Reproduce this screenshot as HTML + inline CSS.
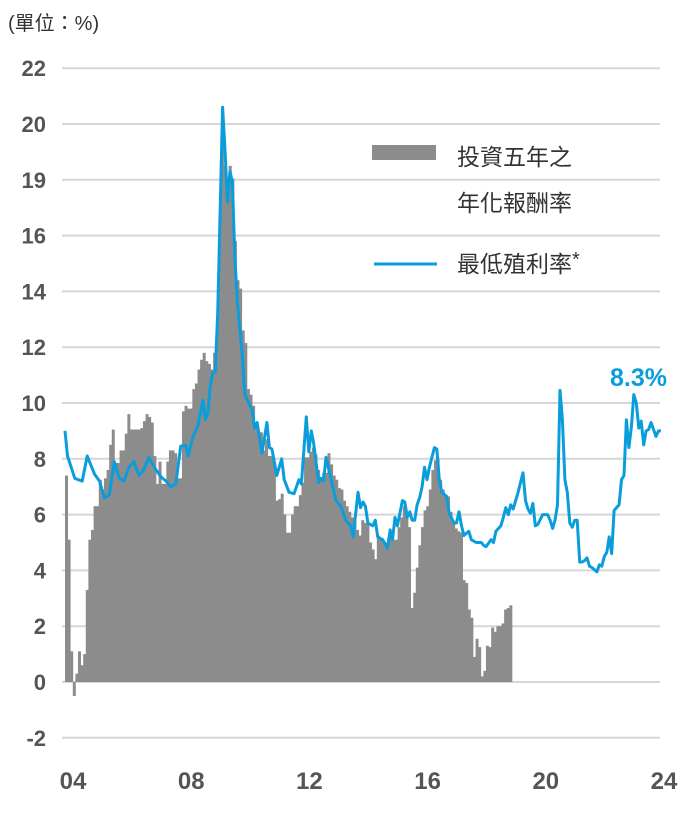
<!DOCTYPE html>
<html><head><meta charset="utf-8">
<style>
html,body{margin:0;padding:0;background:#fff;}
svg{display:block;font-family:"Liberation Sans","Noto Sans CJK TC",sans-serif;}
</style></head>
<body>
<svg id="chart" width="680" height="819" viewBox="0 0 680 819" xmlns="http://www.w3.org/2000/svg">
  <text x="8" y="30" font-size="20" fill="#333">(單位：%)</text>
  <g id="grid"></g>
  <g id="yticks"></g>
  <g id="xticks"></g>
  <g id="bars"></g>
  <path id="line" fill="none" stroke="#0a9ddb" stroke-width="3" stroke-linejoin="round"/>
  <g>
    <rect x="372" y="145" width="64" height="15" fill="#8c8c8c"/>
    <text x="457" y="165" font-size="23" fill="#333">投資五年之</text>
    <text x="457" y="211" font-size="23" fill="#333">年化報酬率</text>
    <line x1="374" y1="264" x2="437" y2="264" stroke="#0a9ddb" stroke-width="3"/>
    <text x="457" y="272" font-size="23" fill="#333">最低殖利率<tspan font-size="20" dy="-6">*</tspan></text>
  </g>
  <text x="667" y="386" font-size="25" font-weight="bold" fill="#0a9ddb" text-anchor="end">8.3%</text>
</svg>
<script>
const yTickValues = [22,20,18,16,14,12,10,8,6,4,2,0,-2];
const yTickLabels = ["22","20","19","16","14","12","10","8","6","4","2","0","-2"];
const xTickMonths = [0,48,96,144,192,240];
const xTickLabels = ["04","08","12","16","20","24"];
const barValues = [7.4,5.1,1.1,-0.5,0.3,1.1,0.6,1.0,3.3,5.1,5.45,6.3,6.3,7.25,6.9,7.3,7.6,8.5,9.05,7.85,7.85,8.3,8.3,8.9,9.6,9.05,9.05,9.05,9.05,9.1,9.35,9.6,9.5,9.3,8.1,7.1,7.9,7.1,7.1,7.9,8.3,8.3,8.2,7.3,7.3,9.7,9.9,9.8,9.8,10.5,10.7,11.2,11.55,11.8,11.5,11.4,11.2,11.8,12.65,16.1,19.5,18.5,17.55,18.5,18.05,15.8,14.4,14.1,12.6,12.15,10.5,10.3,9.9,9.3,8.95,8.95,8.3,8.7,8.1,8.1,7.9,6.5,6.55,
6.75,6.0,5.35,5.35,6.0,6.3,6.3,6.7,7.15,8.05,8.05,8.25,8.4,8.15,7.6,7.35,7.5,7.5,8.2,7.8,7.4,7.25,6.95,6.9,6.5,6.3,6.1,5.9,5.75,5.45,5.25,5.8,5.7,5.7,5.0,4.75,4.4,5.25,5.1,5.0,5.0,5.15,5.15,5.1,5.1,5.55,5.9,6.3,6.05,5.55,2.65,3.2,4.1,4.9,5.55,6.15,6.3,6.9,7.6,7.95,8.0,7.25,6.9,6.7,6.65,6.1,5.7,5.5,5.4,5.35,3.65,3.55,2.6,2.3,0.9,1.55,1.25,0.2,0.4,1.3,1.25,1.95,1.8,2.0,2.0,2.1,2.6,2.65,2.75];
const barStartMonth = 0;
const barEndMonth = 181.5;
const lineMonths = [0,1,4,7,9,12,14,16,18,20,22,24,26,28,30,32,34,37,39,41,43,45,47,49,50,52,54,56,57,58,59,60,61,62,64,65,66,67,68,69,70,72,73,76,77,78,80,82,83,84,86,88,89,91,93,95,96,98,99,100,101,103,104,105,106,108,110,112,114,116,117,119,120,121,122,123,125,126,127,129,131,132,133,134,135,137,138,139,140,141,142,143,144,145,146,147,148,150,151,152,153,155,156,158,159,160,161,162,164,165,167,169,170,171,173,174,175,177,178,179,180,181,182,184,186,187,188,189,190,191,192,194,196,197,198,199,200,201,202,203,204,205,206,207,208,209,210,211,212,213,214,216,217,218,219,220,221,222,223,225,226,227,228,229,230,231,232,233,234,235,236,237,238,240,241,242];
const lineValues = [9.0,8.1,7.3,7.2,8.1,7.45,7.2,6.6,6.7,7.9,7.3,7.2,7.7,7.9,7.4,7.6,8.05,7.6,7.35,7.2,7.0,7.1,8.45,8.5,8.1,8.8,9.2,10.1,9.4,9.6,10.6,11.1,11.1,13.2,20.6,19.0,17.2,18.3,17.9,15.2,13.6,11.7,10.3,9.75,9.1,9.3,8.2,9.3,8.4,8.35,7.4,8.0,7.25,6.8,6.75,7.25,7.1,9.5,8.25,9.0,8.55,7.15,7.3,7.2,8.05,7.3,6.5,6.3,5.8,5.6,5.2,6.8,6.25,6.45,6.3,5.7,5.6,5.8,5.2,5.1,4.8,5.45,5.1,5.9,5.6,6.5,6.45,5.9,6.1,5.8,5.8,6.35,6.6,7.0,7.7,7.25,7.7,8.4,8.35,7.25,6.8,6.65,6.05,5.7,5.7,6.1,5.6,5.25,5.4,5.1,5.0,5.0,4.9,4.85,5.1,5.0,5.4,5.6,5.9,6.25,6.0,6.35,6.2,6.8,7.5,6.5,6.2,6.05,6.4,5.6,5.65,6.0,6.0,5.8,5.5,5.8,6.35,10.45,9.4,7.25,6.8,5.7,5.55,5.8,5.8,4.3,4.3,4.35,4.45,4.15,4.1,3.95,4.2,4.15,4.5,4.65,5.2,4.6,6.15,6.35,7.25,7.4,9.4,8.4,9.15,10.3,10.0,9.1,9.35,8.5,9.0,9.05,9.3,8.8,9.0,9.0];

const NS = "http://www.w3.org/2000/svg";
function xScale(m){ return 65 + m * 2.4625; }
function yScale(v){ return 682 - v * 27.9; }

const grid = document.getElementById('grid');
const yt = document.getElementById('yticks');
yTickValues.forEach((v,i)=>{
  const ln = document.createElementNS(NS,'line');
  
  
  ln.setAttribute('x1', 62); ln.setAttribute('x2', 660);
  ln.setAttribute('y1', yScale(v)); ln.setAttribute('y2', yScale(v));
  ln.setAttribute('stroke', '#d6d6d6'); ln.setAttribute('stroke-width', 2);
  grid.appendChild(ln);
  const t = document.createElementNS(NS,'text');
  
  
  t.setAttribute('x', 46); t.setAttribute('y', yScale(v) + 8);
  t.setAttribute('text-anchor', 'end'); t.setAttribute('font-size', 22);
  t.setAttribute('font-weight', 'bold'); t.setAttribute('fill', '#555');
  t.textContent = yTickLabels[i];
  yt.appendChild(t);
});

const xt = document.getElementById('xticks');
xTickMonths.forEach((m,i)=>{
  const t = document.createElementNS(NS,'text');
  
  
  t.setAttribute('x', xScale(m) + 8); t.setAttribute('y', 789);
  t.setAttribute('text-anchor', 'middle'); t.setAttribute('font-size', 24);
  t.setAttribute('font-weight', 'bold'); t.setAttribute('fill', '#555');
  t.textContent = xTickLabels[i];
  xt.appendChild(t);
});

const bars = document.getElementById('bars');
const step = (barEndMonth - barStartMonth) / barValues.length;
barValues.forEach((v,i)=>{
  const x0 = xScale(barStartMonth + i*step), x1 = xScale(barStartMonth + (i+1)*step);
  const y0 = yScale(Math.max(v,0)), y1 = yScale(Math.min(v,0));
  const r = document.createElementNS(NS,'rect');
  
  
  r.setAttribute('x', x0); r.setAttribute('width', x1 - x0 + 0.4);
  r.setAttribute('y', y0); r.setAttribute('height', Math.max(y1 - y0, 0.5));
  r.setAttribute('fill', '#8c8c8c');
  bars.appendChild(r);
});

let d = '';
lineMonths.forEach((m,i)=>{
  d += (i ? 'L' : 'M') + xScale(m).toFixed(1) + ',' + yScale(lineValues[i]).toFixed(1);
});
document.getElementById('line').setAttribute('d', d);
</script>
</body></html>
